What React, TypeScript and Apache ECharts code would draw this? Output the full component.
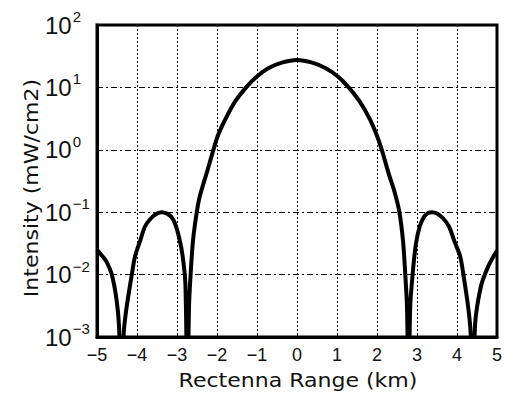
import React, { useEffect, useRef } from "react";
import * as echarts from "echarts";

const xValues = [
  -5.0, -4.9, -4.76, -4.63, -4.51, -4.45, -4.39, -4.33, -4.26, -4.13, -4.05, -3.92, -3.8, -3.65, -3.5, -3.38,
  -3.25, -3.15, -3.05, -2.95, -2.86, -2.79, -2.74, -2.7, -2.66, -2.6, -2.51, -2.43, -2.26, -2.09, -1.97, -1.8,
  -1.55, -1.26, -1.01, -0.72, -0.38, 0, 0.38, 0.72, 1.03, 1.28, 1.57, 1.82, 1.99, 2.12, 2.29, 2.45, 2.56, 2.65,
  2.7, 2.75, 2.79, 2.83, 2.89, 2.97, 3.07, 3.18, 3.28, 3.38, 3.5, 3.65, 3.8, 3.93, 4.08, 4.16, 4.28, 4.34, 4.39,
  4.45, 4.5, 4.62, 4.78, 4.9, 5.0,
];
const intensityValues = [
  0.025, 0.021, 0.016, 0.01, 0.0039, 0.0015, 0.0001, 0.0012, 0.003, 0.01, 0.0195, 0.035, 0.059, 0.08, 0.095, 0.1,
  0.095, 0.085, 0.066, 0.04, 0.02, 0.007, 0.0001, 0.003, 0.01, 0.035, 0.096, 0.18, 0.42, 1.0, 1.74, 3.0,
  5.9, 10.2, 14.8, 20.2, 24.9, 27.5, 24.9, 20.2, 14.8, 10.2, 5.9, 3.1, 1.74, 1.0, 0.42, 0.2, 0.1, 0.035,
  0.012, 0.003, 0.0001, 0.003, 0.01, 0.03, 0.06, 0.085, 0.097, 0.1, 0.095, 0.08, 0.059, 0.035, 0.0195, 0.01, 0.003, 0.0012, 0.0001,
  0.0015, 0.003, 0.0073, 0.0135, 0.019, 0.024,
];
const xTicks = { min: -5, max: 5, interval: 1 };
const yRange = { min: 0.001, max: 100 };
const xTitle = "Rectenna Range (km)";
const yTitle = "Intensity (mW/cm2)";

const FONT = "Liberation Sans, Arial, sans-serif";
const TITLE_FONT = "DejaVu Sans, sans-serif";

export default function App() {
  const ref = useRef<HTMLDivElement>(null);
  useEffect(() => {
    if (!ref.current) return;
    const chart = echarts.init(ref.current, null, { renderer: "svg" });
    const data = xValues.map((x, i) => [x, intensityValues[i]]);
    chart.setOption({
      animation: false,
      backgroundColor: "#fff",
      grid: {
        left: 97,
        right: 8,
        top: 25,
        bottom: 66,
        show: true,
        borderColor: "#000",
        borderWidth: 3,
        backgroundColor: "transparent",
      },
      xAxis: {
        type: "value",
        min: xTicks.min,
        max: xTicks.max,
        interval: xTicks.interval,
        axisLine: { show: true, onZero: false, lineStyle: { color: "#000", width: 3 } },
        axisTick: { show: true, inside: true, length: 4, lineStyle: { color: "#000", width: 1 } },
        axisLabel: {
          fontFamily: FONT,
          fontSize: 18,
          color: "#111",
          margin: 9,
          formatter: (v: number) => String(v).replace("-", "\u2212"),
        },
        splitLine: { show: true, lineStyle: { color: "#000", width: 1, type: [2, 2] } },
      },
      yAxis: {
        type: "log",
        logBase: 10,
        min: yRange.min,
        max: yRange.max,
        axisLine: { show: true, onZero: false, lineStyle: { color: "#000", width: 3 } },
        axisTick: { show: true, inside: true, length: 4, lineStyle: { color: "#000", width: 1 } },
        minorTick: { show: false },
        axisLabel: {
          margin: 52,
          align: "left",
          formatter: (v: number) => {
            const e = Math.round(Math.log10(v));
            const s = e < 0 ? "\u2212" + -e : String(e);
            return `{b|10}{s|${s}}`;
          },
          rich: {
            b: { fontFamily: FONT, fontSize: 24, color: "#111" },
            s: { fontFamily: FONT, fontSize: 15, color: "#111", padding: [0, 0, 17, 1] },
          },
        },
        splitLine: { show: true, lineStyle: { color: "#000", width: 1, type: [6, 3, 2, 3] } },
      },
      graphic: [
        {
          type: "text",
          x: 298,
          y: 381,
          scaleX: 1.16,
          style: {
            text: xTitle,
            fontFamily: TITLE_FONT,
            fontSize: 19,
            fill: "#111",
            align: "center",
            verticalAlign: "middle",
          },
        },
        {
          type: "text",
          x: 32,
          y: 188,
          rotation: Math.PI / 2,
          scaleX: 1.16,
          style: {
            text: yTitle,
            fontFamily: TITLE_FONT,
            fontSize: 19,
            fill: "#111",
            align: "center",
            verticalAlign: "middle",
          },
        },
      ],
      series: [
        {
          type: "line",
          data,
          showSymbol: false,
          symbol: "none",
          clip: true,
          smooth: 0.3,
          lineStyle: { color: "#000", width: 4 },
        },
      ],
    });
    return () => chart.dispose();
  }, []);
  return (
    <div
      ref={ref}
      style={{ position: "absolute", left: 0, top: 0, width: 505, height: 403 }}
    />
  );
}
